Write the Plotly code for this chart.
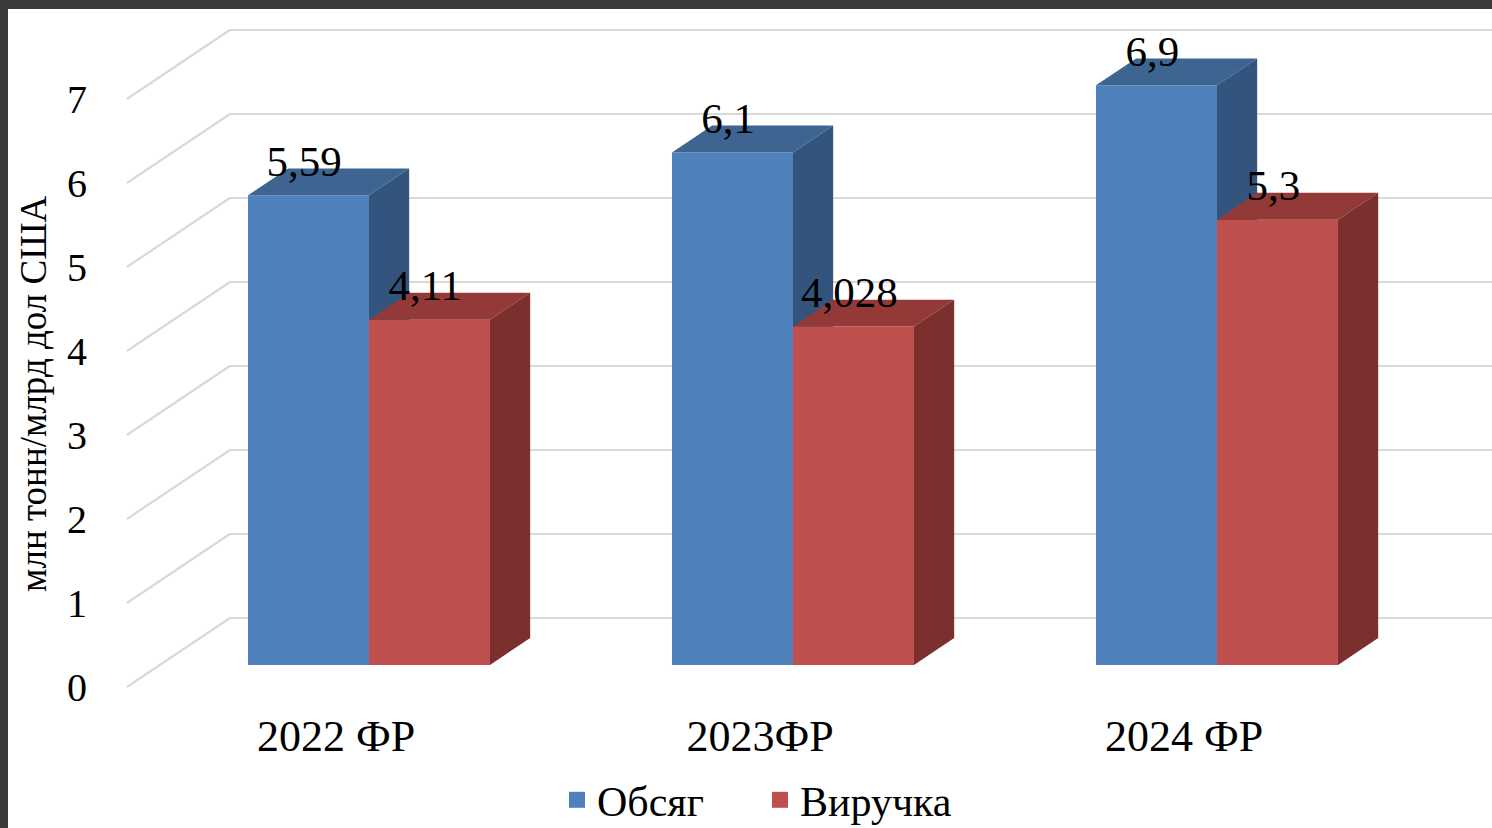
import plotly.graph_objects as go

# ---------------- data ----------------
categories = ["2022 ФР", "2023ФР", "2024 ФР"]
obsyag = [5.59, 6.1, 6.9]
vyruchka = [4.11, 4.028, 5.3]
labels_obsyag = ["5,59", "6,1", "6,9"]
labels_vyruchka = ["4,11", "4,028", "5,3"]
series_names = ["Обсяг", "Виручка"]
y_ticks = [0, 1, 2, 3, 4, 5, 6, 7]
y_title = "млн тонн/млрд дол США"

# ---------------- styling / geometry ----------------
FONT = "Liberation Serif"
W_FIG, H_FIG = 1492, 828
ML, MR, MT, MB = 100, 0, 9, 128
X_RANGE = [-0.6344, 2.6486]
Y_RANGE = [-0.155, 8.071]

FLOOR_DX, FLOOR_DY = 0.243, 0.821      # full depth of the 3D floor (axis units)
FRONT_F, BAR_F = 0.32, 0.39            # bar front plane depth / bar depth (fractions)
FLOOR_X0 = -0.571                      # left end of floor/grid lines
BAR_W = 0.2854

B = FRONT_F * FLOOR_DY                 # bar base (front plane)
SHIFT_X = FRONT_F * FLOOR_DX
DX, DY = BAR_F * FLOOR_DX, BAR_F * FLOOR_DY

COL = {
    "blue": ("#4f81bd", "#3e6591", "#33547c"),
    "red": ("#c0504d", "#933a38", "#7b2f2e"),
}
GRID = "#d9d9d9"
FRAME = "#3a3a3a"

PW = W_FIG - ML - MR
PH = H_FIG - MT - MB

fig = go.Figure()

xs = list(range(len(categories)))


def add_series(name, vals, key, off, xa, ya):
    front, top, side = COL[key]
    fig.add_trace(go.Bar(x=xs, y=vals, base=B, width=BAR_W, offset=off,
                         marker=dict(color=front, line=dict(width=0)),
                         name=name, showlegend=False, xaxis=xa, yaxis=ya))
    tx, ty, sx, sy = [], [], [], []
    for x, v in zip(xs, vals):
        xl = x + off
        xr = xl + BAR_W
        h = B + v
        tx += [xl, xr, xr + DX, xl + DX, xl, None]
        ty += [h, h, h + DY, h + DY, h, None]
        sx += [xr, xr, xr + DX, xr + DX, xr, None]
        sy += [B, h, h + DY, B + DY, B, None]
    fig.add_trace(go.Scatter(x=tx, y=ty, mode="lines", fill="toself", fillcolor=top,
                             line=dict(width=0, color=top), hoverinfo="skip",
                             showlegend=False, xaxis=xa, yaxis=ya))
    fig.add_trace(go.Scatter(x=sx, y=sy, mode="lines", fill="toself", fillcolor=side,
                             line=dict(width=0, color=side), hoverinfo="skip",
                             showlegend=False, xaxis=xa, yaxis=ya))


add_series(series_names[0], obsyag, "blue", -BAR_W, "x", "y")
add_series(series_names[1], vyruchka, "red", 0.0, "x2", "y2")

# data labels (top layer)
for vals, labs, off in [(obsyag, labels_obsyag, -BAR_W), (vyruchka, labels_vyruchka, 0.0)]:
    fig.add_trace(go.Scatter(
        x=[x + off + BAR_W / 2 - 0.01 for x in xs],
        y=[B + v + 0.36 for v in vals],
        mode="text", text=labs, textposition="middle center",
        textfont=dict(family=FONT, size=43, color="#000000"),
        hoverinfo="skip", showlegend=False, xaxis="x2", yaxis="y2"))

# legend entries
for name, key in zip(series_names, ["blue", "red"]):
    fig.add_trace(go.Scatter(x=[None], y=[None], mode="markers", name=name,
                             marker=dict(symbol="square", size=24, color=COL[key][0])))

# grid: floor diagonals + back wall lines (below traces)
shapes = []
for v in y_ticks:
    shapes.append(dict(type="line", xref="x", yref="y", layer="below",
                       x0=FLOOR_X0, y0=v, x1=FLOOR_X0 + FLOOR_DX, y1=v + FLOOR_DY,
                       line=dict(color=GRID, width=2.2)))
    shapes.append(dict(type="line", xref="x", yref="y", layer="below",
                       x0=FLOOR_X0 + FLOOR_DX, y0=v + FLOOR_DY, x1=X_RANGE[1], y1=v + FLOOR_DY,
                       line=dict(color=GRID, width=2.2)))
# dark window frame (top and left)
shapes += [
    dict(type="rect", xref="paper", yref="paper", layer="above", line=dict(width=0),
         fillcolor=FRAME, x0=-ML / PW, x1=1.0, y0=1.0, y1=1.0 + MT / PH),
    dict(type="rect", xref="paper", yref="paper", layer="above", line=dict(width=0),
         fillcolor=FRAME, x0=-ML / PW, x1=(8 - ML) / PW, y0=-MB / PH, y1=1.0 + MT / PH),
]

fig.update_layout(
    width=W_FIG, height=H_FIG,
    margin=dict(l=ML, r=MR, t=MT, b=MB, autoexpand=False),
    paper_bgcolor="white", plot_bgcolor="white",
    barmode="overlay",
    font=dict(family=FONT, color="#000000"),
    showlegend=True,
    legend=dict(orientation="h", x=(760 - ML) / PW, xanchor="center", y=(H_FIG - MB - 800) / PH,
                yanchor="middle",
                font=dict(family=FONT, size=42, color="#000000"),
                itemwidth=30, entrywidth=158, tracegroupgap=0, bgcolor="rgba(0,0,0,0)"),
    xaxis=dict(range=X_RANGE, showgrid=False, zeroline=False, showline=False,
               tickmode="array", tickvals=[x - SHIFT_X for x in xs], ticktext=categories,
               ticks="", tickfont=dict(family=FONT, size=44, color="#000000"),
               ticklabelstandoff=6, fixedrange=True),
    yaxis=dict(range=Y_RANGE, showgrid=False, zeroline=False, showline=False,
               tickmode="array", tickvals=y_ticks, ticktext=[str(v) for v in y_ticks],
               ticks="", tickfont=dict(family=FONT, size=40, color="#000000"),
               ticklabelstandoff=12, fixedrange=True),
    xaxis2=dict(range=X_RANGE, overlaying="x", visible=False, fixedrange=True),
    yaxis2=dict(range=Y_RANGE, overlaying="y", visible=False, fixedrange=True),
    annotations=[dict(text=y_title, textangle=-90, xref="paper", yref="paper",
                      x=(33 - ML) / PW, y=(H_FIG - MB - 394) / PH,
                      xanchor="center", yanchor="middle", showarrow=False,
                      font=dict(family=FONT, size=37, color="#000000"))],
    shapes=shapes,
)

fig.write_html(
    "out.html",
    config={"displayModeBar": False},
    post_script="document.body.style.margin='0';document.body.style.overflow='hidden';"
                "document.body.style.background='#3a3a3a';",
)
